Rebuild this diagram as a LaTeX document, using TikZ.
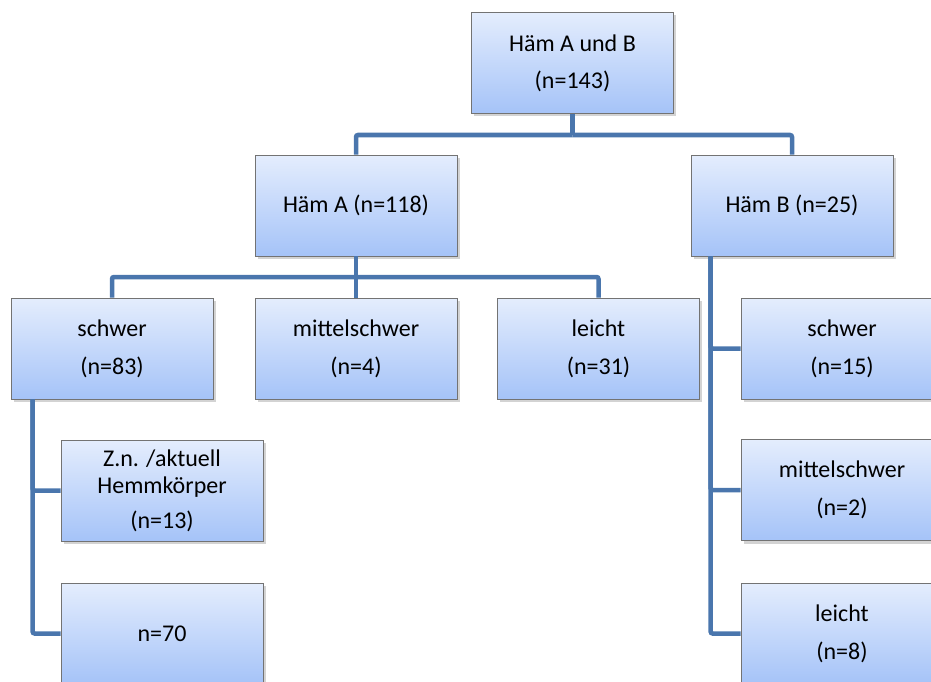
\documentclass[tikz,border=0pt]{standalone}
\usepackage{fontspec}
\setmainfont{Carlito}
\usetikzlibrary{shadows}
\definecolor{boxtop}{HTML}{E4EDFD}
\definecolor{boxbot}{HTML}{A5C3F8}
\definecolor{linkblue}{HTML}{4A76AD}
\begin{document}
\begin{tikzpicture}[x=1pt,y=-1pt,
  box/.style={draw=gray!90!black,line width=0.8pt,top color=boxtop,bottom color=boxbot,
    minimum width=202pt,minimum height=101pt,align=center,inner sep=0pt,
    font=\fontsize{24}{29}\selectfont,
    drop shadow={shadow xshift=2.5pt,shadow yshift=-3pt,opacity=0.35}},
  link/.style={linkblue,line width=4.5pt,rounded corners=2pt}]
\useasboundingbox (0,0) rectangle (931,682);

\node [box] (root) at (572.5,63) {Häm A und B\\[8pt](n=143)};

\node [box] (hamA) at (356,205.5) {Häm A (n=118)};
\node [box] (hamB) at (792,205.5) {Häm B (n=25)};

\node [box] (aSchwer) at (112,348.5) {schwer\\[9pt](n=83)};
\node [box] (aMittel) at (356,348.5) {mittelschwer\\[9pt](n=4)};
\node [box] (aLeicht) at (598.5,348.5) {leicht\\[9pt](n=31)};

\node [box] (bSchwer) at (842,348.5) {schwer\\[9pt](n=15)};
\node [box] (bMittel) at (842,490) {mittelschwer\\[9pt](n=2)};
\node [box] (bLeicht) at (842,633.5) {leicht\\[9pt](n=8)};

\node [box] (zn) at (162,490.5) {Z.n. /aktuell\\[-2pt]Hemmkörper\\[6pt](n=13)};
\node [box] (nRest) at (162,633.5) {n=70};

\coordinate (rootBar) at (572.5,135);
\coordinate (aBar) at (356,277);
\coordinate (bSpine) at ([xshift=20pt]hamB.south west);
\coordinate (aSpine) at ([xshift=22pt]aSchwer.south west);

\draw [link] (root) -- (rootBar);
\draw [link] (rootBar) -| (hamA);
\draw [link] (rootBar) -| (hamB);

\draw [link] (hamA) -- (aBar);
\draw [link] (aBar) -| (aSchwer);
\draw [link] (aBar) -- (aMittel);
\draw [link] (aBar) -| (aLeicht);

\draw [link] (bSpine) |- (bSchwer);
\draw [link] (bSpine) |- (bMittel);
\draw [link] (bSpine) |- (bLeicht);

\draw [link] (aSpine) |- (zn);
\draw [link] (aSpine) |- (nRest);

\end{tikzpicture}
\end{document}
